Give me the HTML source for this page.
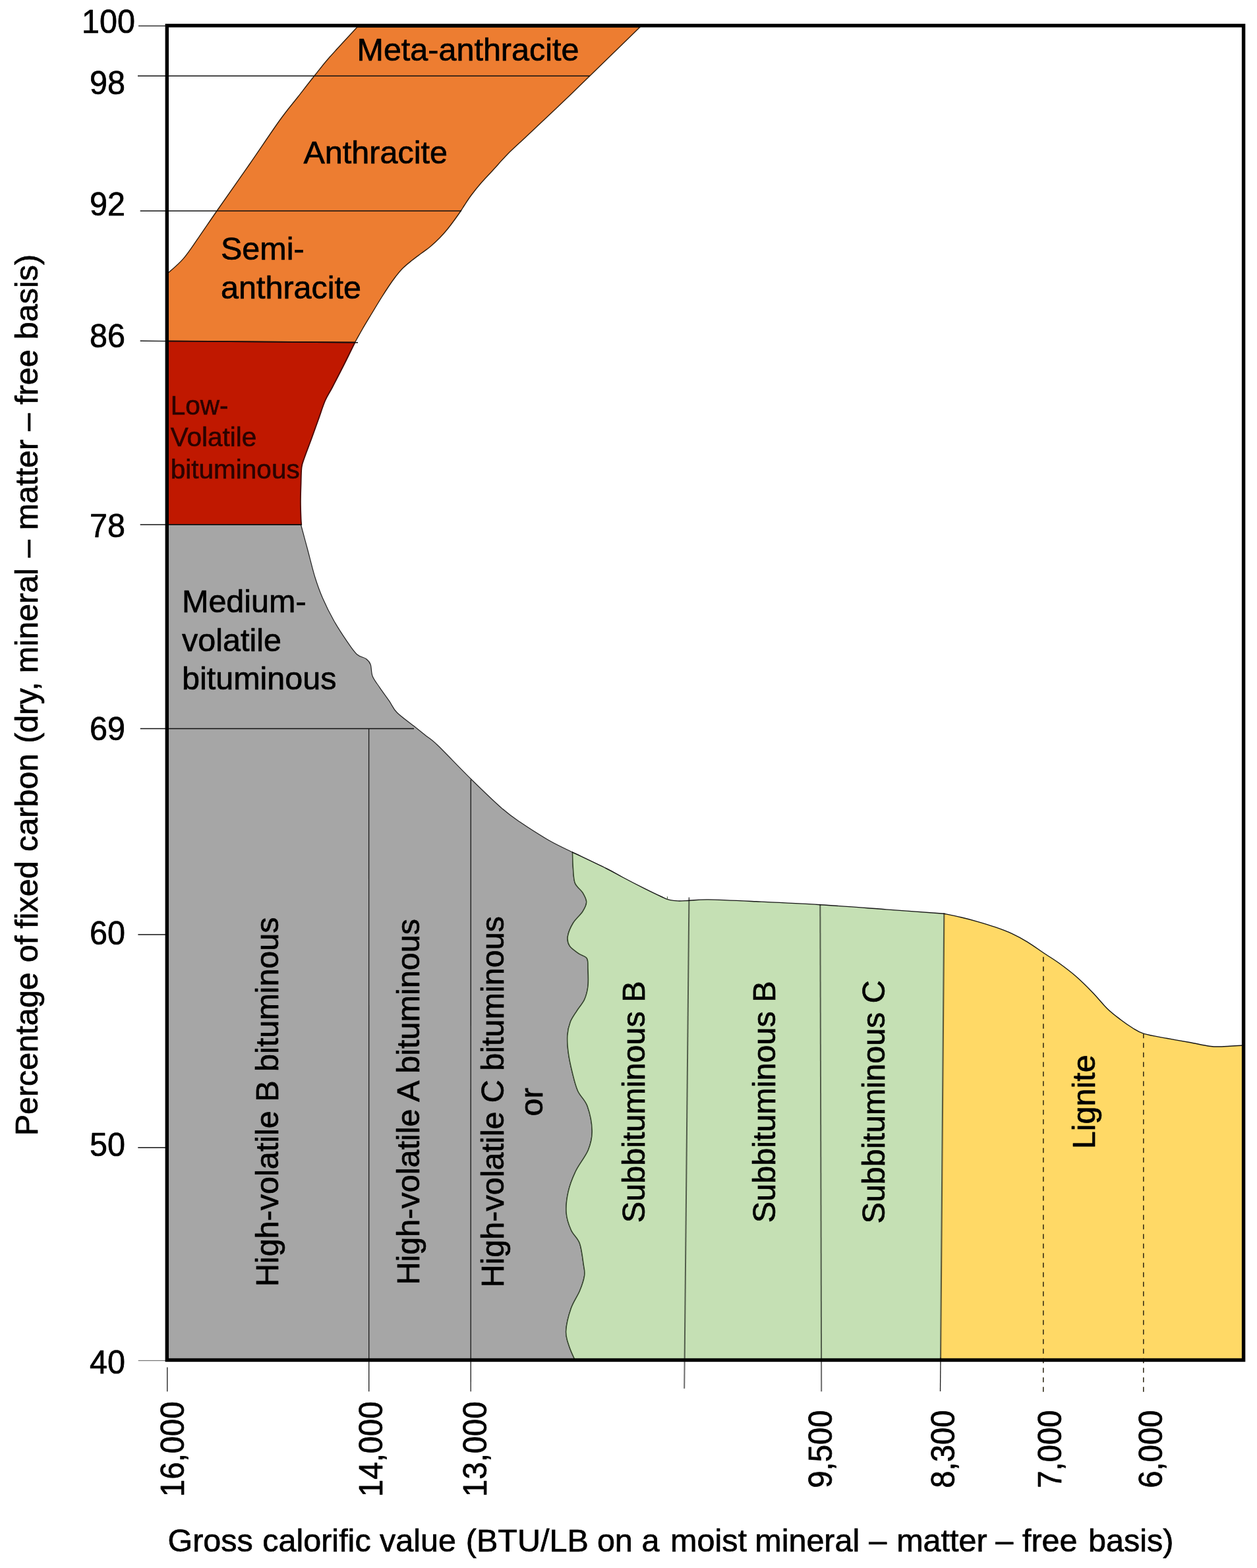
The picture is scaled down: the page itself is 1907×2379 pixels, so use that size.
<!DOCTYPE html>
<html lang="en">
<head>
<meta charset="utf-8">
<title>Coal rank classification chart</title>
<style>
html,body{margin:0;padding:0;background:#fff;}
body{width:1907px;height:2379px;overflow:hidden;}
svg{display:block;}
svg text{font-family:"Liberation Sans",sans-serif;stroke:#000;stroke-width:0.7px;stroke-linejoin:round;}
svg text.lv{stroke:#2a0300;stroke-width:0.6px;}
</style>
</head>
<body>
<svg width="1907" height="2379" viewBox="0 0 1907 2379">
<rect x="0" y="0" width="1907" height="2379" fill="#fff"/>
<g id="regions">
<path d="M542.0 41.0 C535.0 48.6 510.8 74.5 500.0 86.8 C489.2 99.1 485.0 105.0 477.0 115.0 C469.0 125.0 460.8 135.7 452.0 147.0 C443.2 158.3 436.3 165.8 424.0 183.0 C411.7 200.2 393.8 227.2 378.0 250.0 C362.2 272.8 341.8 301.5 329.0 320.0 C316.2 338.5 309.5 348.7 301.0 360.8 C292.5 372.9 285.7 383.7 278.0 392.6 C270.3 401.5 258.8 410.7 255.0 414.3 L253.3 415.0 L253.3 517.4 L538.5 519.5 C540.4 516.1 545.6 506.6 550.0 499.0 C554.4 491.4 560.2 482.0 565.0 474.0 C569.8 466.0 574.8 457.7 579.0 451.0 C583.2 444.3 586.5 439.2 590.0 434.0 C593.5 428.8 596.5 424.5 600.0 420.0 C603.5 415.5 606.8 411.2 611.0 407.0 C615.2 402.8 620.3 398.8 625.0 395.0 C629.7 391.2 634.3 388.0 639.0 384.5 C643.7 381.0 648.3 377.9 653.0 374.0 C657.7 370.1 662.7 365.4 667.0 361.0 C671.3 356.6 675.2 352.2 679.0 347.5 C682.8 342.8 686.6 337.7 690.0 333.0 C693.4 328.3 697.1 323.1 699.5 319.5 C701.9 315.9 702.0 315.3 704.5 311.5 C707.0 307.7 710.5 302.2 714.7 296.5 C719.0 290.8 724.5 283.8 730.0 277.5 C735.5 271.2 740.9 265.8 747.6 258.5 C754.3 251.2 761.9 242.2 770.0 234.0 C778.1 225.8 785.8 219.1 796.0 209.5 C806.2 199.9 819.3 187.6 831.0 176.5 C842.7 165.4 855.3 153.4 866.0 143.2 C876.7 132.9 877.5 132.0 895.0 115.0 C912.5 98.0 958.3 53.3 971.0 41.0 Z" fill="#ED7D31" stroke="#2e1c0c" stroke-width="1.4" stroke-linejoin="round"/>
<path d="M253.3 517.4 L538.5 519.5 C535.6 525.4 526.8 543.6 521.0 555.0 C515.2 566.4 508.6 579.2 504.0 588.0 C499.4 596.8 496.7 599.8 493.2 608.0 C489.7 616.2 486.3 627.3 482.8 637.0 C479.3 646.7 475.9 656.5 472.4 666.0 C468.9 675.5 464.5 686.8 462.0 694.0 C459.5 701.2 458.5 702.0 457.6 709.0 C456.7 716.0 456.8 726.9 456.5 735.7 C456.2 744.5 455.9 753.0 455.9 761.7 C455.9 770.4 456.4 782.1 456.6 787.8 C456.8 793.5 457.2 794.6 457.3 796.0 L253.3 796.0 Z" fill="#C01800" stroke="#4a0800" stroke-width="1.8" stroke-linejoin="round"/>
<path d="M253.3 796.0 L456.5 796.0 C458.1 802.0 462.6 818.8 466.2 832.0 C469.8 845.2 473.9 863.0 477.8 875.5 C481.7 888.0 484.6 896.2 489.4 907.3 C494.2 918.4 500.4 930.9 506.7 942.0 C513.0 953.1 521.2 965.4 527.0 973.9 C532.8 982.4 536.6 988.4 541.4 992.7 C546.2 997.0 552.4 997.2 555.9 999.9 C559.4 1002.5 560.8 1004.2 562.3 1008.6 C563.8 1013.0 562.9 1020.2 565.2 1026.0 C567.5 1031.8 572.0 1037.0 576.2 1043.3 C580.4 1049.6 586.3 1057.3 590.6 1063.6 C594.9 1069.9 595.9 1074.6 602.2 1081.0 C608.5 1087.4 620.8 1095.9 628.2 1101.8 C635.6 1107.7 640.5 1111.7 646.5 1116.5 C652.5 1121.3 652.7 1120.0 664.0 1130.8 C675.3 1141.6 698.0 1165.7 714.1 1181.5 C730.2 1197.3 747.9 1214.5 760.4 1225.5 C772.9 1236.5 777.3 1239.3 789.4 1247.6 C801.5 1255.8 819.6 1267.4 832.8 1275.0 C846.0 1282.6 862.5 1290.0 868.5 1293.0 C868.6 1296.9 868.8 1308.8 869.4 1316.6 C870.0 1324.4 869.9 1333.4 872.3 1339.7 C874.7 1346.0 881.0 1349.4 883.9 1354.2 C886.8 1359.0 889.7 1363.8 889.7 1368.6 C889.7 1373.4 887.3 1377.8 883.9 1383.1 C880.5 1388.4 873.2 1394.2 869.4 1400.5 C865.6 1406.8 862.2 1414.9 861.3 1420.7 C860.4 1426.5 861.4 1430.9 864.2 1435.2 C867.0 1439.5 873.8 1443.7 878.1 1446.8 C882.5 1449.9 888.0 1450.2 890.3 1454.0 C892.6 1457.8 891.7 1462.9 892.0 1469.9 C892.3 1476.9 892.9 1488.3 892.0 1496.0 C891.1 1503.7 889.6 1509.9 886.8 1516.2 C884.0 1522.5 878.8 1527.8 875.2 1533.6 C871.6 1539.4 867.5 1544.6 865.1 1550.9 C862.7 1557.2 861.3 1563.5 860.8 1571.2 C860.3 1578.9 861.0 1588.0 862.2 1597.2 C863.4 1606.4 865.6 1616.6 868.0 1626.2 C870.4 1635.8 872.7 1646.3 876.5 1655.0 C880.3 1663.7 887.4 1668.0 891.0 1678.1 C894.6 1688.2 898.0 1704.6 898.2 1715.7 C898.4 1726.8 896.5 1734.6 892.4 1744.7 C888.3 1754.8 878.7 1765.9 873.6 1776.5 C868.5 1787.1 864.4 1797.7 862.0 1808.3 C859.6 1818.9 858.4 1830.5 859.1 1840.2 C859.8 1849.9 863.0 1858.5 866.4 1866.2 C869.8 1873.9 876.3 1877.8 879.4 1886.5 C882.5 1895.2 884.0 1910.1 885.2 1918.3 C886.4 1926.5 887.6 1928.8 886.6 1935.6 C885.6 1942.3 882.8 1950.6 879.4 1958.8 C876.0 1967.0 869.9 1974.7 866.4 1984.8 C862.9 1994.9 859.1 2009.9 858.6 2019.6 C858.1 2029.2 861.2 2035.4 863.5 2042.7 C865.8 2050.0 870.8 2060.0 872.2 2063.5 L253.3 2063.5 Z" fill="#A6A6A6" stroke="#222" stroke-width="1.2" stroke-linejoin="round"/>
<path d="M868.5 1293.0 C877.0 1297.1 906.9 1311.2 919.6 1317.5 C932.3 1323.8 935.1 1325.9 944.7 1331.0 C954.3 1336.1 967.8 1343.1 977.4 1347.9 C987.0 1352.7 996.4 1357.2 1002.5 1360.0 C1008.6 1362.8 1009.6 1363.8 1014.0 1364.9 C1018.4 1366.1 1023.3 1366.7 1028.6 1366.9 C1033.9 1367.1 1038.3 1366.6 1046.0 1366.3 C1053.7 1366.0 1058.0 1364.7 1074.9 1364.9 C1091.8 1365.2 1119.0 1366.5 1147.2 1367.8 C1175.4 1369.1 1211.3 1370.7 1244.2 1372.7 C1277.1 1374.7 1313.4 1377.6 1344.7 1379.9 C1376.0 1382.2 1417.7 1385.2 1432.3 1386.3 L1427.0 2063.5 L872.2 2063.5 C870.8 2060.0 865.8 2050.0 863.5 2042.7 C861.2 2035.4 858.1 2029.2 858.6 2019.6 C859.1 2009.9 862.9 1994.9 866.4 1984.8 C869.9 1974.7 876.0 1967.0 879.4 1958.8 C882.8 1950.6 885.6 1942.3 886.6 1935.6 C887.6 1928.8 886.4 1926.5 885.2 1918.3 C884.0 1910.1 882.5 1895.2 879.4 1886.5 C876.3 1877.8 869.8 1873.9 866.4 1866.2 C863.0 1858.5 859.8 1849.9 859.1 1840.2 C858.4 1830.5 859.6 1818.9 862.0 1808.3 C864.4 1797.7 868.5 1787.1 873.6 1776.5 C878.7 1765.9 888.3 1754.8 892.4 1744.7 C896.5 1734.6 898.4 1726.8 898.2 1715.7 C898.0 1704.6 894.6 1688.2 891.0 1678.1 C887.4 1668.0 880.3 1663.7 876.5 1655.0 C872.7 1646.3 870.4 1635.8 868.0 1626.2 C865.6 1616.6 863.4 1606.4 862.2 1597.2 C861.0 1588.0 860.3 1578.9 860.8 1571.2 C861.3 1563.5 862.7 1557.2 865.1 1550.9 C867.5 1544.6 871.6 1539.4 875.2 1533.6 C878.8 1527.8 884.0 1522.5 886.8 1516.2 C889.6 1509.9 891.1 1503.7 892.0 1496.0 C892.9 1488.3 892.3 1476.9 892.0 1469.9 C891.7 1462.9 892.6 1457.8 890.3 1454.0 C888.0 1450.2 882.5 1449.9 878.1 1446.8 C873.8 1443.7 867.0 1439.5 864.2 1435.2 C861.4 1430.9 860.4 1426.5 861.3 1420.7 C862.2 1414.9 865.6 1406.8 869.4 1400.5 C873.2 1394.2 880.5 1388.4 883.9 1383.1 C887.3 1377.8 889.7 1373.4 889.7 1368.6 C889.7 1363.8 886.8 1359.0 883.9 1354.2 C881.0 1349.4 874.7 1346.0 872.3 1339.7 C869.9 1333.4 870.0 1324.4 869.4 1316.6 C868.8 1308.8 868.6 1296.9 868.5 1293.0 Z" fill="#C5E0B4" stroke="none" stroke-width="0" stroke-linejoin="round"/>
<path d="M1432.3 1386.3 C1436.6 1387.2 1449.4 1389.8 1458.0 1391.8 C1466.6 1393.8 1475.3 1396.1 1484.0 1398.6 C1492.7 1401.1 1501.3 1403.7 1510.0 1406.7 C1518.7 1409.7 1527.8 1413.0 1536.0 1416.8 C1544.2 1420.6 1551.2 1424.5 1559.0 1429.3 C1566.8 1434.1 1575.1 1440.2 1582.9 1445.5 C1590.7 1450.8 1597.9 1454.9 1606.0 1460.8 C1614.1 1466.7 1623.1 1473.3 1631.7 1480.8 C1640.3 1488.3 1649.8 1497.7 1657.8 1506.0 C1665.8 1514.3 1673.0 1523.7 1680.0 1530.5 C1687.0 1537.3 1693.7 1542.2 1700.0 1547.0 C1706.3 1551.8 1712.1 1555.9 1718.0 1559.5 C1723.9 1563.1 1726.7 1565.7 1735.5 1568.4 C1744.3 1571.1 1759.1 1573.3 1770.9 1575.5 C1782.7 1577.7 1795.6 1579.8 1806.2 1581.8 C1816.8 1583.8 1826.7 1586.2 1834.5 1587.2 C1842.3 1588.2 1844.6 1588.2 1853.3 1588.0 C1862.0 1587.8 1881.0 1586.3 1886.6 1586.0 L1886.6 2063.5 L1427.0 2063.5 Z" fill="#FFD966" stroke="none" stroke-width="0" stroke-linejoin="round"/>
<path d="M868.5 1293.0 C868.6 1296.9 868.8 1308.8 869.4 1316.6 C870.0 1324.4 869.9 1333.4 872.3 1339.7 C874.7 1346.0 881.0 1349.4 883.9 1354.2 C886.8 1359.0 889.7 1363.8 889.7 1368.6 C889.7 1373.4 887.3 1377.8 883.9 1383.1 C880.5 1388.4 873.2 1394.2 869.4 1400.5 C865.6 1406.8 862.2 1414.9 861.3 1420.7 C860.4 1426.5 861.4 1430.9 864.2 1435.2 C867.0 1439.5 873.8 1443.7 878.1 1446.8 C882.5 1449.9 888.0 1450.2 890.3 1454.0 C892.6 1457.8 891.7 1462.9 892.0 1469.9 C892.3 1476.9 892.9 1488.3 892.0 1496.0 C891.1 1503.7 889.6 1509.9 886.8 1516.2 C884.0 1522.5 878.8 1527.8 875.2 1533.6 C871.6 1539.4 867.5 1544.6 865.1 1550.9 C862.7 1557.2 861.3 1563.5 860.8 1571.2 C860.3 1578.9 861.0 1588.0 862.2 1597.2 C863.4 1606.4 865.6 1616.6 868.0 1626.2 C870.4 1635.8 872.7 1646.3 876.5 1655.0 C880.3 1663.7 887.4 1668.0 891.0 1678.1 C894.6 1688.2 898.0 1704.6 898.2 1715.7 C898.4 1726.8 896.5 1734.6 892.4 1744.7 C888.3 1754.8 878.7 1765.9 873.6 1776.5 C868.5 1787.1 864.4 1797.7 862.0 1808.3 C859.6 1818.9 858.4 1830.5 859.1 1840.2 C859.8 1849.9 863.0 1858.5 866.4 1866.2 C869.8 1873.9 876.3 1877.8 879.4 1886.5 C882.5 1895.2 884.0 1910.1 885.2 1918.3 C886.4 1926.5 887.6 1928.8 886.6 1935.6 C885.6 1942.3 882.8 1950.6 879.4 1958.8 C876.0 1967.0 869.9 1974.7 866.4 1984.8 C862.9 1994.9 859.1 2009.9 858.6 2019.6 C858.1 2029.2 861.2 2035.4 863.5 2042.7 C865.8 2050.0 870.8 2060.0 872.2 2063.5" fill="none" stroke="#34442c" stroke-width="1.5" stroke-linejoin="round" stroke-linecap="round"/>
<path d="M868.5 1293.0 C877.0 1297.1 906.9 1311.2 919.6 1317.5 C932.3 1323.8 935.1 1325.9 944.7 1331.0 C954.3 1336.1 967.8 1343.1 977.4 1347.9 C987.0 1352.7 996.4 1357.2 1002.5 1360.0 C1008.6 1362.8 1009.6 1363.8 1014.0 1364.9 C1018.4 1366.1 1023.3 1366.7 1028.6 1366.9 C1033.9 1367.1 1038.3 1366.6 1046.0 1366.3 C1053.7 1366.0 1058.0 1364.7 1074.9 1364.9 C1091.8 1365.2 1119.0 1366.5 1147.2 1367.8 C1175.4 1369.1 1211.3 1370.7 1244.2 1372.7 C1277.1 1374.7 1313.4 1377.6 1344.7 1379.9 C1376.0 1382.2 1417.7 1385.2 1432.3 1386.3 C1436.6 1387.2 1449.4 1389.8 1458.0 1391.8 C1466.6 1393.8 1475.3 1396.1 1484.0 1398.6 C1492.7 1401.1 1501.3 1403.7 1510.0 1406.7 C1518.7 1409.7 1527.8 1413.0 1536.0 1416.8 C1544.2 1420.6 1551.2 1424.5 1559.0 1429.3 C1566.8 1434.1 1575.1 1440.2 1582.9 1445.5 C1590.7 1450.8 1597.9 1454.9 1606.0 1460.8 C1614.1 1466.7 1623.1 1473.3 1631.7 1480.8 C1640.3 1488.3 1649.8 1497.7 1657.8 1506.0 C1665.8 1514.3 1673.0 1523.7 1680.0 1530.5 C1687.0 1537.3 1693.7 1542.2 1700.0 1547.0 C1706.3 1551.8 1712.1 1555.9 1718.0 1559.5 C1723.9 1563.1 1726.7 1565.7 1735.5 1568.4 C1744.3 1571.1 1759.1 1573.3 1770.9 1575.5 C1782.7 1577.7 1795.6 1579.8 1806.2 1581.8 C1816.8 1583.8 1826.7 1586.2 1834.5 1587.2 C1842.3 1588.2 1844.6 1588.2 1853.3 1588.0 C1862.0 1587.8 1881.0 1586.3 1886.6 1586.0" fill="none" stroke="#151515" stroke-width="1.4" stroke-linejoin="round" stroke-linecap="round"/>
<path d="M1432.3 1386.3 L1427.0 2063.5" fill="none" stroke="#000" stroke-width="2.2" stroke-opacity="0.58" stroke-linejoin="round" stroke-linecap="round"/>
</g>
<g id="lines" fill="none">
<line x1="210.0" y1="39.4" x2="253.3" y2="39.4" stroke="#111" stroke-width="1.4"/>
<line x1="209.0" y1="115.2" x2="895.0" y2="115.2" stroke="#111" stroke-width="1.4"/>
<line x1="212.7" y1="320.0" x2="700.0" y2="320.0" stroke="#111" stroke-width="1.4"/>
<line x1="212.7" y1="517.3" x2="543.0" y2="519.8" stroke="#111" stroke-width="1.4"/>
<line x1="212.7" y1="796.0" x2="458.0" y2="796.3" stroke="#111" stroke-width="1.4"/>
<line x1="212.8" y1="1105.5" x2="628.0" y2="1105.5" stroke="#111" stroke-width="1.4"/>
<line x1="209.4" y1="1418.0" x2="253.3" y2="1418.0" stroke="#111" stroke-width="1.4"/>
<line x1="209.3" y1="1741.3" x2="253.3" y2="1741.3" stroke="#111" stroke-width="1.4"/>
<line x1="209.7" y1="2064.3" x2="253.3" y2="2064.3" stroke="#777" stroke-width="1.3"/>
<line x1="559.6" y1="1105.5" x2="559.7" y2="2111.3" stroke="#1a1a1a" stroke-width="1.3"/>
<line x1="714.3" y1="1183.0" x2="714.2" y2="2111.3" stroke="#1a1a1a" stroke-width="1.3"/>
<line x1="1045.4" y1="1361.4" x2="1038.2" y2="2106.7" stroke="#000" stroke-width="2.0" stroke-opacity="0.58"/>
<line x1="1012.4" y1="1360.3" x2="1012.4" y2="1364.8" stroke="#3c5230" stroke-width="1"/>
<line x1="1244.3" y1="1372.0" x2="1246.2" y2="2111.3" stroke="#000" stroke-width="2.0" stroke-opacity="0.58"/>
<line x1="1427.0" y1="2060.0" x2="1426.5" y2="2111.0" stroke="#1a1a1a" stroke-width="1.3"/>
<line x1="253.8" y1="2074.4" x2="253.8" y2="2111.3" stroke="#1a1a1a" stroke-width="1.3"/>
<line x1="1582.8" y1="2111.8" x2="1582.9" y2="1447.5" stroke="#2b2410" stroke-width="1.5" stroke-dasharray="7.5 7"/>
<line x1="1734.8" y1="2111.8" x2="1734.8" y2="1568.5" stroke="#2b2410" stroke-width="1.5" stroke-dasharray="7.5 7"/>
</g>
<rect x="253.3" y="38.8" width="1633.3" height="2024.7" fill="none" stroke="#000" stroke-width="5.4"/>
<g id="labels">
<text x="0" y="0" transform="translate(164.4 49.5) scale(1.0 1.04)" font-size="48.5" text-anchor="middle">100</text>
<text x="0" y="0" transform="translate(162.9 143.2) scale(1.0 1.04)" font-size="48.5" text-anchor="middle">98</text>
<text x="0" y="0" transform="translate(162.9 327.2) scale(1.0 1.04)" font-size="48.5" text-anchor="middle">92</text>
<text x="0" y="0" transform="translate(162.9 526.5) scale(1.0 1.04)" font-size="48.5" text-anchor="middle">86</text>
<text x="0" y="0" transform="translate(162.9 815.2) scale(1.0 1.04)" font-size="48.5" text-anchor="middle">78</text>
<text x="0" y="0" transform="translate(162.9 1122.6) scale(1.0 1.04)" font-size="48.5" text-anchor="middle">69</text>
<text x="0" y="0" transform="translate(162.9 1433.3) scale(1.0 1.04)" font-size="48.5" text-anchor="middle">60</text>
<text x="0" y="0" transform="translate(162.9 1753.5) scale(1.0 1.04)" font-size="48.5" text-anchor="middle">50</text>
<text x="0" y="0" transform="translate(162.9 2083.6) scale(1.0 1.04)" font-size="48.5" text-anchor="middle">40</text>
<text x="541.5" y="92.3" font-size="48.5" text-anchor="start" fill="#000">Meta-anthracite</text>
<text x="460.5" y="247.6" font-size="48.5" text-anchor="start" fill="#000">Anthracite</text>
<text x="335.0" y="394.3" font-size="48.5" text-anchor="start" fill="#000">Semi-</text>
<text x="335.0" y="453.2" font-size="48.5" text-anchor="start" fill="#000">anthracite</text>
<text x="258.8" y="628.9" font-size="40.5" text-anchor="start" fill="#2a0300" class="lv">Low-</text>
<text x="258.8" y="676.8" font-size="40.5" text-anchor="start" fill="#2a0300" class="lv">Volatile</text>
<text x="258.8" y="725.8" font-size="40.5" text-anchor="start" fill="#2a0300" class="lv">bituminous</text>
<text x="276.0" y="929.0" font-size="48.5" text-anchor="start" fill="#000">Medium-</text>
<text x="276.0" y="987.6" font-size="48.5" text-anchor="start" fill="#000">volatile</text>
<text x="276.0" y="1046.2" font-size="48.5" text-anchor="start" fill="#000">bituminous</text>
<text x="0" y="0" transform="translate(422.2 1671.8) rotate(-90)" font-size="48.5" text-anchor="middle" fill="#000">High-volatile B bituminous</text>
<text x="0" y="0" transform="translate(636.1 1671.8) rotate(-90)" font-size="48.5" text-anchor="middle" fill="#000">High-volatile A bituminous</text>
<text x="0" y="0" transform="translate(763.5 1671.8) rotate(-90)" font-size="48.5" text-anchor="middle" fill="#000">High-volatile C bituminous</text>
<text x="0" y="0" transform="translate(823.2 1672.0) rotate(-90)" font-size="48.5" text-anchor="middle" fill="#000">or</text>
<text x="0" y="0" transform="translate(977.8 1671.8) rotate(-90)" font-size="48.5" text-anchor="middle" fill="#000">Subbituminous B</text>
<text x="0" y="0" transform="translate(1176.4 1671.8) rotate(-90)" font-size="48.5" text-anchor="middle" fill="#000">Subbituminous B</text>
<text x="0" y="0" transform="translate(1342.4 1671.8) rotate(-90)" font-size="48.5" text-anchor="middle" fill="#000">Subbituminous C</text>
<text x="0" y="0" transform="translate(1660.7 1671.8) rotate(-90)" font-size="48.5" text-anchor="middle" fill="#000">Lignite</text>
<text x="0" y="0" transform="translate(279.2 2198.6) rotate(-90) scale(0.975 1.04)" font-size="48.5" text-anchor="middle">16,000</text>
<text x="0" y="0" transform="translate(579.9 2198.6) rotate(-90) scale(0.975 1.04)" font-size="48.5" text-anchor="middle">14,000</text>
<text x="0" y="0" transform="translate(737.5 2198.6) rotate(-90) scale(0.975 1.04)" font-size="48.5" text-anchor="middle">13,000</text>
<text x="0" y="0" transform="translate(1261.5 2198.6) rotate(-90) scale(0.975 1.04)" font-size="48.5" text-anchor="middle">9,500</text>
<text x="0" y="0" transform="translate(1447.6 2198.6) rotate(-90) scale(0.975 1.04)" font-size="48.5" text-anchor="middle">8,300</text>
<text x="0" y="0" transform="translate(1610.4 2198.6) rotate(-90) scale(0.975 1.04)" font-size="48.5" text-anchor="middle">7,000</text>
<text x="0" y="0" transform="translate(1763.0 2198.6) rotate(-90) scale(0.975 1.04)" font-size="48.5" text-anchor="middle">6,000</text>
<text y="0" transform="translate(56.9 0) rotate(-90)" font-size="48.5" text-anchor="middle"><tspan x="-1592.6">Percentage </tspan><tspan x="-1433.2">of </tspan><tspan x="-1350.8">fixed </tspan><tspan x="-1211.0">carbon </tspan><tspan x="-1074.4">(dry, </tspan><tspan x="-934.9">mineral </tspan><tspan x="-825.7">– </tspan><tspan x="-728.9">matter </tspan><tspan x="-633.8">– </tspan><tspan x="-565.3">free </tspan><tspan x="-450.6">basis)</tspan></text>
<text y="2354.0" font-size="48.5" text-anchor="middle"><tspan x="325.9">Gross </tspan><tspan x="487.2">calorific </tspan><tspan x="640.8">value </tspan><tspan x="806.5">(BTU/LB </tspan><tspan x="939.6">on </tspan><tspan x="993.7">a </tspan><tspan x="1081.7">moist </tspan><tspan x="1231.5">mineral </tspan><tspan x="1338.6">– </tspan><tspan x="1435.7">matter </tspan><tspan x="1530.6">– </tspan><tspan x="1599.5">free </tspan><tspan x="1715.7">basis)</tspan></text>
</g>
</svg>
</body>
</html>
